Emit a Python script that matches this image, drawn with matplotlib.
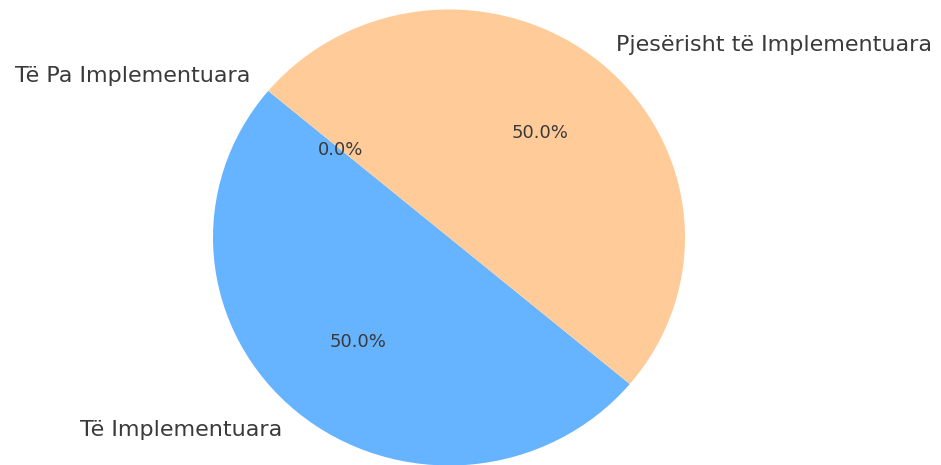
import matplotlib
matplotlib.use("Agg")
import matplotlib.pyplot as plt

labels = ["Të Implementuara", "Pjesërisht të Implementuara", "Të Pa Implementuara"]
values = [50, 50, 0]
colors = ["#66b3ff", "#ffcc99", "#ff9999"]

fig = plt.figure(figsize=(9.41, 4.65), dpi=100)
W, H = 941, 465
rx, ry = 236, 228
cx, cy = 449, 465 - 237.5
ax = fig.add_axes([(cx - rx) / W, (cy - ry) / H, 2 * rx / W, 2 * ry / H])
wedges, texts, autotexts = ax.pie(values, labels=labels, colors=colors,
                                  autopct="%1.1f%%", startangle=140,
                                  textprops={"fontsize": 16, "color": "#3a3a3a"})
for t in autotexts:
    t.set_fontsize(13)
ax.set_xlim(-1, 1)
ax.set_ylim(-1, 1)
ax.set_aspect("auto")
fig.savefig("out.png", dpi=100)
